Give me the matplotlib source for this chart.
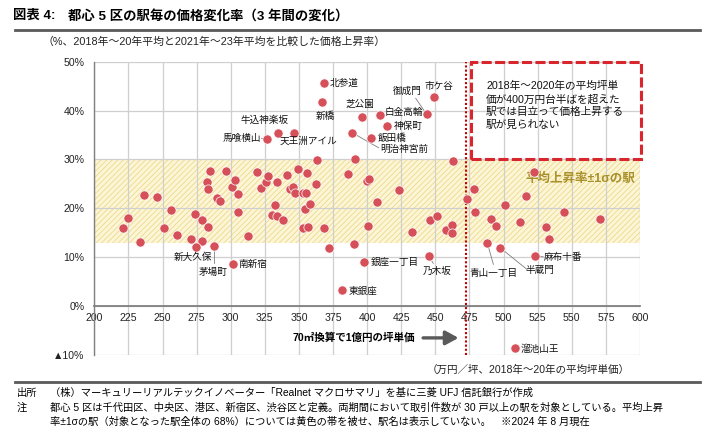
import matplotlib
matplotlib.use('Agg')
import matplotlib.pyplot as plt
from matplotlib.patches import Rectangle
from matplotlib.lines import Line2D

plt.rcParams['font.family'] = ['Liberation Sans', 'Noto Sans CJK JP']
plt.rcParams['hatch.linewidth'] = 0.6

# ---------------- data ----------------
# unlabeled stations (within mean ±1σ band etc.)
other_x = [220.8, 224.9, 233.7, 236.7, 245.7, 250.9, 256.0, 260.3, 271.0, 274.0,
           279.1, 279.0, 282.6, 283.0, 283.7, 284.6, 289.6, 292.1, 296.6, 300.7,
           303.2, 305.3, 305.5, 313.0, 318.9, 322.2, 326.2, 327.6, 330.3, 332.7,
           333.9, 334.2, 338.0, 341.5, 343.5, 345.7, 347.4, 349.2, 352.8, 352.8,
           355.0, 354.7, 355.7, 357.0, 358.3, 362.3, 363.4, 368.6, 371.9, 385.8,
           390.4, 391.3, 400.2, 401.6, 400.9, 406.9, 423.6, 432.9, 446.3, 451.5,
           457.6, 462.2, 462.2, 463.2, 473.0, 478.6, 478.9, 491.0, 494.3, 501.3,
           512.3, 516.5, 522.1, 531.0, 533.1, 544.6, 571.0]
other_y = [16.0, 18.0, 13.1, 22.8, 22.3, 16.0, 19.6, 14.5, 13.7, 18.9,
           17.6, 13.4, 25.4, 24.0, 16.1, 27.7, 22.2, 21.5, 27.6, 24.3,
           25.9, 19.3, 22.9, 14.4, 27.5, 24.1, 25.4, 26.6, 18.7, 20.6,
           25.4, 18.5, 17.6, 26.8, 23.9, 24.4, 23.2, 28.0, 15.9, 23.1,
           23.2, 19.8, 27.2, 16.1, 20.8, 24.9, 29.9, 15.9, 11.9, 27.0,
           12.8, 30.0, 25.6, 26.1, 16.3, 21.3, 23.7, 15.1, 17.6, 18.5,
           15.5, 16.5, 14.9, 29.6, 21.9, 24.0, 19.3, 17.8, 16.4, 20.6,
           17.2, 22.5, 27.4, 16.1, 13.8, 19.2, 17.8]

# labeled stations
label_names = ['北参道', '新橋', '芝公園', '白金高輪', '御成門', '市ケ谷', '神保町', '飯田橋',
               '明治神宮前', '牛込神楽坂', '天王洲アイル', '馬喰横山', '新大久保', '茅場町',
               '南新宿', '東銀座', '銀座一丁目', '乃木坂', '青山一丁目', '半蔵門', '麻布十番',
               '溜池山王']
label_x = [368.4, 366.9, 396.0, 409.5, 443.7, 448.8, 414.4, 403.1,
           388.9, 334.5, 346.4, 326.6, 274.8, 287.8,
           301.9, 381.8, 397.9, 445.2, 488.0, 497.7, 523.2,
           508.7]
label_y = [45.6, 41.7, 38.6, 39.1, 39.2, 42.7, 36.8, 34.3,
           35.5, 35.5, 35.5, 34.2, 12.1, 12.4,
           8.7, 3.2, 9.1, 10.2, 13.0, 11.9, 10.2,
           -8.6]

x_ticks = [200, 225, 250, 275, 300, 325, 350, 375, 400, 425, 450, 475, 500, 525, 550, 575, 600]
y_ticks = [-10, 0, 10, 20, 30, 40, 50]
y_tick_labels = ['▲10%', '0%', '10%', '20%', '30%', '40%', '50%']
band_low, band_high = 12.9, 30.0
threshold_price = 472.2   # 70㎡換算で1億円の坪単価

# ---------------- layout for labels (text position, alignment, leader end) ----------------
label_layout = {
    '北参道': ((372.3, 45.6), 'left', None),
    '新橋': ((369.0, 38.9), 'center', None),
    '芝公園': ((394.8, 41.3), 'center', None),
    '白金高輪': ((412.6, 39.8), 'left', None),
    '御成門': ((429.5, 44.1), 'center', (435.6, 42.5)),
    '市ケ谷': ((452.9, 45.0), 'center', None),
    '神保町': ((419.9, 36.8), 'left', None),
    '飯田橋': ((408.2, 34.4), 'left', None),
    '明治神宮前': ((409.5, 32.2), 'left', (408.4, 32.4)),
    '牛込神楽坂': ((325.1, 38.0), 'center', None),
    '天王洲アイル': ((356.9, 33.8), 'center', None),
    '馬喰横山': ((322.2, 34.3), 'right', (322.6, 34.3)),
    '新大久保': ((272.6, 10.0), 'center', None),
    '茅場町': ((287.2, 6.9), 'center', (287.8, 8.8)),
    '南新宿': ((305.6, 8.55), 'left', None),
    '東銀座': ((386.7, 3.15), 'left', None),
    '銀座一丁目': ((402.6, 9.0), 'left', None),
    '乃木坂': ((451.0, 7.2), 'center', (448.5, 8.75)),
    '青山一丁目': ((492.5, 6.8), 'center', (492.5, 8.55)),
    '半蔵門': ((526.8, 7.4), 'center', (517.2, 7.5)),
    '麻布十番': ((529.2, 10.1), 'left', (529.0, 10.1)),
    '溜池山王': ((512.7, -8.8), 'left', None),
}

# ---------------- figure ----------------
fig = plt.figure(figsize=(7.1, 4.41), dpi=100)
fig.patch.set_facecolor('white')
ax = fig.add_axes([94.3 / 710, 1 - 355 / 441, (640 - 94.3) / 710, (355 - 61.7) / 441])

ax.set_xlim(200, 600)
ax.set_ylim(-10, 50)
ax.set_xticks(x_ticks)
ax.set_yticks(y_ticks)
ax.set_yticklabels(y_tick_labels)
ax.grid(True, color='#cfcfcf', lw=0.9)
ax.set_axisbelow(True)
for s in ['top', 'right']:
    ax.spines[s].set_visible(False)
ax.spines['bottom'].set_position(('data', 0))
ax.spines['bottom'].set_color('#808080')
ax.spines['bottom'].set_linewidth(1.3)
ax.spines['left'].set_color('#808080')
ax.spines['left'].set_linewidth(1.0)
ax.tick_params(axis='both', length=0, labelsize=7.6, colors='#222222')
ax.tick_params(axis='x', pad=5)
ax.tick_params(axis='y', pad=7)

# band (mean ±1σ)
ax.axhspan(band_low, band_high, facecolor='#fdf6d6', edgecolor='none', lw=0, zorder=0.1)
ax.axhspan(band_low, band_high, facecolor='none', edgecolor='#ecd98c', hatch='//////', lw=0, zorder=0.2)

# threshold dotted line
ax.axvline(threshold_price, color='#c00000', lw=1.5, linestyle=(0, (1, 1)), zorder=2)

# dashed red box
rect = Rectangle((476.2, band_high), 600.5 - 476.2, 50 - band_high, fill=False,
                 edgecolor='#d9262e', lw=2.2, linestyle=(0, (3.3, 1.1)), clip_on=False, zorder=4)
ax.add_patch(rect)
ax.text(487.2, 46.0, '2018年～2020年の平均坪単\n価が400万円台半ばを超えた\n駅では目立って価格上昇する\n駅が見られない',
        fontsize=7.7, ha='left', va='top', linespacing=1.32, color='#111111', zorder=5)

ax.text(556.1, 26.1, '平均上昇率±1σの駅', fontsize=9, fontweight='bold', color='#a8902a',
        ha='center', va='center', zorder=5)

# scatter
all_x = other_x + label_x
all_y = other_y + label_y
ax.scatter(all_x, all_y, s=44, c='#d6505a', edgecolors='white', linewidths=0.5, zorder=6)

# labels
for name, px, py in zip(label_names, label_x, label_y):
    (tx, ty), ha, leader = label_layout[name]
    if leader is not None:
        ax.add_line(Line2D([px, leader[0]], [py, leader[1]], color='#7f7f7f', lw=0.6, zorder=5))
    ax.text(tx, ty, name, fontsize=6.9, ha=ha, va='center', color='#111111', zorder=7)

# arrow and threshold note
ax.text(390.0, -6.5, '70㎡換算で1億円の坪単価', fontsize=7.6, fontweight='bold', ha='center', va='center')
ax.annotate('', xy=(467.0, -6.5), xytext=(441.0, -6.5),
            arrowprops=dict(arrowstyle='-|>,head_length=0.55,head_width=0.3', color='#5a5a5a',
                            lw=2.4, mutation_scale=14, shrinkA=0, shrinkB=0))

# ---------------- figure texts ----------------
fig.text(13 / 710, 1 - 16 / 441, '図表 4:', fontsize=9.6, fontweight='bold', ha='left', va='center')
fig.text(68 / 710, 1 - 16 / 441, '都心 5 区の駅毎の価格変化率（3 年間の変化）', fontsize=9.6,
         fontweight='bold', ha='left', va='center')
fig.add_artist(Line2D([15 / 710, 700 / 710], [1 - 29.5 / 441] * 2, color='#595959', lw=2.0))
fig.text(43 / 710, 1 - 42 / 441, '（%、2018年～20年平均と2021年～23年平均を比較した価格上昇率）',
         fontsize=7.8, ha='left', va='center', color='#222222')
fig.text(630 / 710, 1 - 370 / 441, '（万円／坪、2018年～20年の平均坪単価）', fontsize=7.6,
         ha='right', va='center', color='#222222')

fig.add_artist(Line2D([15 / 710, 700 / 710], [1 - 381.5 / 441] * 2, color='#595959', lw=2.0))
fig.text(17 / 710, 1 - 393 / 441, '出所', fontsize=7.4, ha='left', va='center')
fig.text(50 / 710, 1 - 393 / 441,
         '（株）マーキュリーリアルテックイノベーター「Realnet マクロサマリ」を基に三菱 UFJ 信託銀行が作成',
         fontsize=7.4, ha='left', va='center')
fig.text(17 / 710, 1 - 408 / 441, '注', fontsize=7.4, ha='left', va='center')
fig.text(50 / 710, 1 - 408 / 441,
         '都心 5 区は千代田区、中央区、港区、新宿区、渋谷区と定義。両期間において取引件数が 30 戸以上の駅を対象としている。平均上昇',
         fontsize=7.4, ha='left', va='center')
fig.text(50 / 710, 1 - 422 / 441,
         '率±1σの駅（対象となった駅全体の 68%）については黄色の帯を被せ、駅名は表示していない。　※2024 年 8 月現在',
         fontsize=7.4, ha='left', va='center')

fig.savefig('out.png', dpi=100)
